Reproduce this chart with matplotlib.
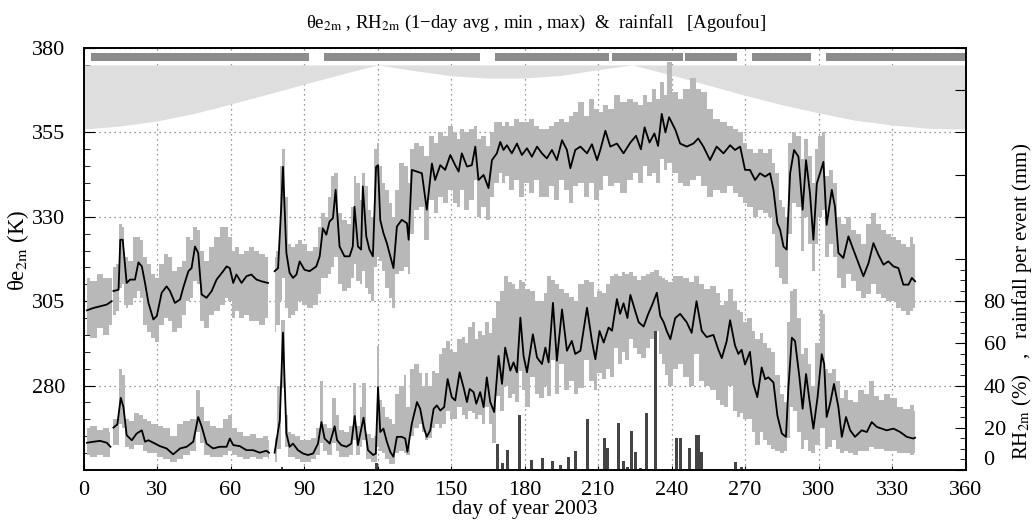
import numpy as np
import matplotlib
matplotlib.use("Agg")
import matplotlib.pyplot as plt
from matplotlib.ticker import MultipleLocator, FixedLocator, FuncFormatter

plt.rcParams['font.family'] = ['Liberation Serif', 'DejaVu Serif']
plt.rcParams['mathtext.fontset'] = 'stix'

nan = np.nan

# theta-e 2m : day, 1-day avg, min, max  (K)
theta_day = [1.4, 4.1, 6.8, 9.5, 11.5, 11.9, 12.2, 14.3, 15.0, 16.0, 17.0, 17.6, 19.0, 21.0, 22.4, 23.8,
             25.1, 26.5, 28.5, 29.9, 31.9, 33.9, 35.3, 37.3, 39.4, 40.7, 42.8, 44.1, 45.5, 46.8, 48.2,
             50.2, 52.3, 54.3, 57.0, 58.4, 59.7, 61.1, 62.4, 64.5, 66.5, 68.5, 70.6, 72.6, 75.3, 76.5,
             78.0, 79.4, 80.7, 81.4, 82.8, 84.1, 85.5, 86.9, 88.2, 90.2, 92.3, 95.0, 96.4, 97.7, 99.1,
             100.4, 101.8, 102.9, 104.5, 106.5, 108.6, 109.9, 110.6, 112.0, 113.3, 114.0, 115.4, 116.7,
             118.1, 119.4, 120.2, 121.1, 122.4, 123.8, 125.2, 126.5, 127.9, 129.9, 132.0, 132.7, 134.0,
             136.1, 138.1, 140.1, 142.2, 143.5, 145.6, 147.6, 149.7, 151.7, 153.1, 154.4, 156.5, 158.5,
             159.9, 161.2, 163.3, 165.3, 166.7, 168.7, 170.1, 171.4, 172.8, 174.8, 176.9, 178.9, 181.0,
             183.0, 185.1, 187.1, 189.1, 191.2, 193.2, 195.3, 197.3, 198.7, 200.7, 202.8, 205.5, 207.5,
             209.6, 211.0, 213.0, 215.0, 217.7, 220.4, 223.2, 225.5, 227.5, 229.0, 231.0, 233.0, 234.5,
             236.0, 237.5, 239.0, 241.6, 243.5, 246.2, 248.9, 250.9, 253.0, 255.7, 258.4, 261.2, 263.9,
             265.9, 268.0, 270.0, 272.0, 274.1, 276.1, 278.2, 280.2, 281.6, 283.2, 284.3, 285.7, 287.0,
             288.4, 290.0, 291.8, 293.5, 294.9, 296.5, 297.9, 299.3, 300.6, 302.0, 303.3, 305.4, 306.7,
             308.1, 310.1, 312.2, 314.2, 316.3, 318.3, 320.4, 322.4, 324.4, 326.5, 328.5, 330.6, 332.6,
             334.6, 336.7, 338.1, 339.4]
theta_avg = [302.3, 303.0, 303.5, 304.0, 305.0, nan, 308.0, 308.4, 323.2, 323.2, 315.3, 310.4, 311.4, 311.4,
             316.5, 315.3, 310.4, 304.5, 299.6, 300.6, 307.5, 309.4, 308.0, 304.5, 305.5, 309.0, 313.9,
             314.8, 321.2, 319.3, 307.0, 306.0, 308.0, 311.4, 313.9, 315.3, 314.8, 310.4, 312.9, 310.4,
             312.4, 312.9, 311.4, 310.9, 310.4, nan, 313.9, 314.8, 333.0, 344.8, 319.3, 313.4, 311.9,
             312.9, 316.8, 314.3, 313.9, 315.3, 318.3, 326.6, 324.7, 328.6, 329.6, 338.0, 321.2, 318.3,
             318.3, 321.2, 333.0, 321.2, 320.3, 339.0, 324.2, 320.3, 318.3, 344.8, 345.3, 329.1, 325.2,
             322.2, 318.3, 314.8, 327.1, 329.1, 328.1, 323.2, 343.9, 343.4, 342.9, 332.1, 345.8, 340.9,
             345.3, 343.9, 348.3, 345.3, 343.4, 348.8, 344.9, 345.3, 350.8, 340.9, 342.4, 338.5, 346.8,
             348.8, 352.2, 349.8, 351.2, 348.8, 351.7, 348.3, 350.3, 347.8, 350.8, 348.8, 347.3, 349.8,
             346.8, 352.7, 349.8, 344.4, 349.8, 350.8, 348.8, 351.5, 346.8, 350.0, 355.5, 350.8, 351.7,
             348.8, 352.0, 354.0, 350.0, 356.5, 352.0, 354.7, 351.0, 360.5, 355.0, 359.5, 355.7, 351.7,
             350.8, 351.7, 353.2, 350.8, 346.8, 350.8, 348.8, 351.2, 349.8, 350.8, 343.9, 343.9, 340.9,
             342.9, 341.9, 342.9, 338.0, 328.1, 326.2, 321.2, 320.3, 342.9, 349.8, 347.8, 332.1, 346.8,
             337.0, 323.2, 339.9, 342.9, 346.3, 327.6, 338.0, 333.0, 319.3, 317.8, 324.2, 320.3, 316.3,
             312.4, 316.3, 322.2, 318.8, 315.8, 316.8, 315.3, 314.8, 309.9, 309.9, 311.9, 310.9]
theta_min = [295, 294, 297, 295, 298, nan, 301, 302, 309, 310, 304, 303, 304, 306, 308, 306, 298, 296, 294,
             293, 298, 300, 299, 296, 297, 301, 305, 306, 311, 310, 299, 297, 301, 302, 304, 306, 305, 300,
             302, 300, 301, 299, 299, 298, 300, nan, 296, 298, 305, 312, 303, 300, 301, 302, 305, 304, 303,
             304, 307, 312, 312, 313, 315, 318, 310, 308, 309, 312, 316, 311, 310, 314, 309, 307, 305, 315,
             318, 317, 314, 309, 306, 303, 313, 314, 315, 313, 325, 332, 333, 323, 335, 331, 336, 334, 338,
             334, 333, 338, 332, 335, 341, 330, 333, 329, 336, 340, 343, 340, 342, 338, 341, 336, 340, 337,
             341, 336, 336, 339, 335, 341, 338, 334, 339, 340, 336, 340, 335, 338, 342, 339, 340, 337, 341,
             343, 340, 345, 342, 343, 340, 347, 344, 346, 343, 340, 339, 341, 342, 339, 336, 338, 337, 339,
             337, 336, 334, 333, 330, 332, 331, 330, 325, 315, 312, 310, 310, 325, 334, 333, 320, 330, 322,
             314, 322, 330, 332, 318, 322, 318, 312, 309, 313, 311, 308, 306, 307, 310, 307, 306, 305, 305,
             303, 302, 301, 302, 303]
theta_max = [312, 311, 313, 312, 312, nan, 315, 316, 328, 327, 318, 318, 317, 324, 324, 323, 318, 316, 313,
             312, 316, 319, 318, 314, 315, 317, 324, 323, 327, 326, 320, 317, 321, 324, 327, 327, 324, 320,
             321, 319, 320, 321, 320, 319, 318, nan, 318, 320, 345, 350, 336, 322, 321, 322, 323, 322, 320,
             321, 327, 331, 330, 336, 342, 343, 331, 329, 328, 333, 342, 340, 335, 343, 339, 332, 330, 350,
             352, 345, 340, 338, 334, 330, 338, 346, 345, 340, 350, 352, 351, 348, 354, 352, 355, 354, 357,
             355, 353, 356, 355, 356, 357, 353, 354, 351, 355, 358, 358, 357, 358, 357, 359, 358, 358, 359,
             357, 356, 356, 357, 358, 359, 358, 360, 361, 364, 360, 365, 362, 361, 363, 362, 366, 364, 365,
             364, 363, 366, 364, 368, 365, 370, 366, 376, 367, 365, 368, 371, 368, 367, 362, 359, 358, 357,
             356, 355, 352, 350, 349, 350, 349, 350, 346, 343, 335, 333, 330, 352, 355, 354, 347, 353, 348,
             340, 350, 354, 355, 342, 344, 340, 330, 328, 330, 326, 325, 322, 328, 331, 328, 326, 325, 324,
             323, 322, 321, 324, 322]

# RH 2m : day, 1-day avg, min, max  (%)
rh_day = [1.4, 4.1, 6.8, 9.5, 11.0, 11.9, 12.2, 13.8, 15.2, 16.3, 17.6, 19.7, 21.7, 23.8, 25.1, 26.5, 28.5,
          31.2, 33.9, 36.6, 39.4, 42.1, 44.8, 46.8, 48.2, 50.2, 52.9, 55.6, 58.4, 59.7, 61.1, 63.8, 66.5,
          69.2, 71.9, 74.6, 75.7, 77.0, 78.0, 80.1, 81.4, 82.8, 84.1, 85.5, 87.5, 89.6, 91.6, 93.7, 95.7,
          97.1, 98.4, 100.5, 102.5, 103.5, 105.2, 107.3, 109.3, 110.7, 112.0, 113.4, 114.3, 116.1, 118.2,
          119.3, 120.2, 121.1, 122.4, 123.8, 125.2, 126.5, 127.9, 129.9, 131.3, 132.2, 134.0, 136.1, 137.4,
          138.8, 140.1, 141.5, 142.9, 144.2, 145.6, 147.2, 148.6, 150.3, 151.7, 153.5, 155.1, 156.5, 157.6,
          159.2, 160.3, 161.9, 163.3, 164.6, 166.0, 167.6, 169.4, 170.8, 172.1, 174.2, 175.5, 176.9, 178.3,
          179.6, 181.0, 183.4, 185.1, 187.1, 188.5, 189.8, 191.6, 193.2, 195.3, 197.3, 199.3, 200.7, 202.8,
          205.5, 207.5, 208.9, 210.6, 212.3, 214.3, 215.7, 217.7, 219.0, 220.4, 222.0, 223.2, 225.0, 226.6,
          228.6, 230.5, 232.0, 234.0, 235.4, 236.8, 238.0, 239.5, 241.5, 243.5, 246.2, 248.2, 250.2, 252.3,
          254.3, 257.1, 259.1, 260.5, 262.5, 263.9, 265.9, 267.3, 268.6, 270.0, 272.0, 273.4, 275.0, 276.8,
          278.2, 279.5, 281.6, 283.2, 285.0, 286.7, 287.7, 289.1, 290.4, 292.2, 293.5, 294.9, 296.3, 297.9,
          299.6, 301.3, 302.3, 303.3, 304.7, 306.3, 308.1, 309.5, 311.2, 312.9, 314.9, 317.6, 319.7, 321.7,
          323.8, 325.8, 327.8, 330.6, 333.3, 336.0, 338.7, 339.4]
rh_avg = [12.9, 13.4, 13.8, 12.9, 11.0, nan, 20.1, 21.6, 34.2, 29.8, 16.5, 14.1, 17.3, 18.8, 13.4, 14.1, 12.9,
          11.3, 10.2, 7.4, 10.2, 11.0, 13.4, 25.1, 20.7, 12.5, 10.2, 11.0, 11.0, 14.9, 11.8, 11.3, 9.4, 9.4,
          8.2, 9.1, 8.2, nan, 8.2, 23.5, 65.1, 17.3, 11.0, 12.5, 9.4, 7.8, 7.1, 7.8, 12.5, 22.7, 14.9, 12.5,
          20.7, 14.1, 11.8, 11.0, 12.5, 25.6, 11.8, 19.6, 24.8, 9.4, 7.1, 7.8, 39.2, 18.0, 19.6, 13.4, 8.6,
          6.3, 15.7, 15.7, 14.9, 8.6, 22.0, 32.2, 29.0, 20.4, 15.7, 18.8, 29.0, 30.6, 28.2, 29.8, 43.1, 34.5,
          33.0, 46.3, 39.2, 32.2, 38.4, 36.9, 31.4, 36.9, 29.8, 43.9, 32.2, 27.5, 54.1, 40.8, 58.0, 47.1,
          51.0, 46.3, 72.2, 54.1, 46.3, 64.3, 53.3, 50.2, 58.0, 51.0, 79.2, 51.8, 76.1, 56.5, 61.2, 55.0,
          56.5, 76.9, 61.2, 52.5, 65.9, 60.4, 67.5, 66.0, 81.0, 74.0, 79.0, 72.0, 83.0, 76.0, 70.0, 68.0,
          74.0, 78.0, 84.0, 73.0, 70.0, 66.0, 62.0, 72.0, 74.0, 70.0, 65.0, 80.0, 66.0, 63.0, 64.0, 57.0,
          53.0, 61.0, 71.0, 59.0, 55.0, 57.0, 50.0, 56.0, 40.8, 34.5, 48.6, 43.0, 43.9, 41.5, 25.8, 17.3,
          15.7, 39.2, 62.7, 61.1, 43.9, 29.0, 45.5, 32.9, 19.6, 34.5, 54.9, 50.2, 25.1, 31.4, 40.8, 29.8,
          15.7, 25.1, 18.8, 15.7, 18.8, 18.0, 22.7, 20.4, 19.6, 18.8, 19.6, 18.0, 15.7, 14.9, 15.3]
rh_min = [7, 6, 7, 6, 6, nan, 12, 12, 22, 20, 11, 10, 12, 12, 9, 8, 8, 6, 5, 4, 5, 7, 9, 18, 13, 7, 6, 6, 7,
          9, 7, 6, 5, 6, 5, 6, 5, nan, 4, 10, 39, 11, 6, 6, 5, 4, 4, 5, 7, 13, 9, 7, 13, 9, 6, 6, 7, 14, 7,
          11, 14, 5, 4, 4, 11, 9, 8, 5, 3, 3, 8, 9, 8, 7, 16, 20, 22, 18, 14, 15, 20, 22, 20, 22, 28, 24, 24,
          30, 26, 24, 28, 27, 24, 26, 22, 30, 22, 13, 35, 28, 40, 34, 36, 32, 47, 38, 30, 44, 36, 34, 40, 35,
          52, 36, 50, 38, 42, 36, 39, 52, 42, 38, 46, 43, 48, 44, 58, 50, 56, 52, 62, 58, 55, 53, 58, 62, 66,
          55, 50, 45, 40, 48, 50, 44, 40, 55, 42, 40, 38, 33, 31, 30, 40, 28, 25, 27, 24, 24, 18, 12, 18, 14,
          12, 10, 9, 8, 9, 15, 30, 28, 18, 10, 14, 9, 8, 12, 20, 20, 10, 11, 14, 10, 8, 9, 8, 7, 9, 9, 11,
          10, 10, 9, 9, 8, 8, 7, 8]
rh_max = [20, 21, 19, 20, 18, nan, 24, 24, 48, 45, 24, 23, 27, 26, 24, 23, 22, 21, 20, 16, 22, 23, 24, 38,
          30, 23, 21, 20, 24, 26, 20, 18, 16, 17, 15, 16, 14, nan, 15, 40, 71, 26, 18, 17, 16, 14, 14, 15,
          20, 42, 22, 20, 34, 26, 19, 18, 21, 41, 21, 30, 41, 17, 15, 16, 59, 33, 30, 25, 24, 22, 36, 40,
          45, 30, 48, 50, 46, 40, 46, 40, 47, 46, 55, 58, 61, 57, 56, 62, 63, 60, 68, 70, 62, 66, 64, 70,
          65, 72, 80, 85, 92, 89, 88, 86, 90, 89, 86, 85, 80, 80, 84, 92, 90, 88, 86, 84, 82, 80, 88, 90,
          89, 82, 85, 84, 88, 92, 93, 92, 94, 93, 94, 92, 90, 92, 93, 94, 95, 92, 91, 90, 89, 92, 92, 91,
          89, 92, 88, 86, 87, 84, 78, 80, 86, 80, 76, 75, 70, 72, 66, 62, 65, 60, 58, 56, 45, 36, 32, 70,
          85, 86, 72, 55, 58, 50, 40, 60, 76, 74, 48, 46, 48, 42, 34, 38, 33, 32, 38, 36, 42, 35, 33, 36,
          34, 30, 29, 31, 28]

# rainfall per event (mm)
rain_day = [81.0, 119.7, 168.9, 171.0, 173.2, 177.9, 182.9, 187.2, 191.5, 194.7, 197.9, 200.7, 205.6,
            212.7, 214.0, 218.4, 220.4, 222.0, 223.6, 225.2, 227.2, 229.9, 233.4, 242.2, 243.8, 247.5,
            250.0, 251.0, 252.4, 266.0, 268.7]
rain_mm = [1.6, 3.4, 12.5, 3.4, 9.4, 25.9, 4.7, 5.5, 4.4, 2.4, 6.0, 9.0, 24.2, 15.2, 10.5, 22.5, 4.2,
           1.6, 18.4, 8.3, 0.8, 27.0, 68.0, 15.2, 15.2, 10.2, 16.5, 16.5, 8.6, 3.6, 1.6]

# data availability periods (day start, day end)
avail_start = [3.0, 98.0, 168.0, 215.6, 245.5, 273.0, 303.0]
avail_end = [92.0, 162.0, 214.6, 244.6, 266.7, 297.0, 360.0]

# upper shaded envelope (lower edge, K scale)
sun_day = [0, 15, 30, 45, 60, 75, 90, 105, 120, 135, 150, 165, 180, 195, 210, 224, 240, 255, 270, 285,
           300, 315, 330, 345, 360]
sun_k = [356.0, 356.9, 358.4, 360.6, 363.4, 366.3, 369.3, 372.2, 375.0, 373.3, 371.8, 371.1, 371.1, 371.9,
         373.6, 375.0, 372.0, 369.0, 366.0, 363.2, 360.8, 358.6, 357.2, 356.2, 356.0]

fig = plt.figure(figsize=(10.35, 5.26), dpi=100)
ax = fig.add_axes([0.0807, 0.1065, 0.8522, 0.8022])
ax.set_xlim(0, 360)
ax.set_ylim(255, 380)
ax.set_axisbelow(True)
ax.grid(True, which='major', linestyle=(0, (1, 3)), color='#777777', linewidth=0.9)

ax.fill_between(sun_day, sun_k, 375.0, color='#dedede', linewidth=0, zorder=1)
ax.broken_barh([(s, e - s) for s, e in zip(avail_start, avail_end)], (376.3, 2.2),
               facecolors='#8c8c8c', zorder=2)

band = '#b8b8b8'
ax.fill_between(theta_day, theta_min, theta_max, step='mid', color=band, linewidth=0, zorder=3)
ax.plot(theta_day, theta_avg, color='black', linewidth=1.3, zorder=4)

ax2 = ax.twinx()
ax2.set_ylim(0, 200)
ax2.bar(rain_day, rain_mm, width=1.2, color='#444444', zorder=2)
ax2.fill_between(rh_day, rh_min, rh_max, step='mid', color=band, linewidth=0, zorder=3)
ax2.plot(rh_day, rh_avg, color='black', linewidth=1.3, zorder=4)

ax.xaxis.set_major_locator(MultipleLocator(30))
ax.yaxis.set_major_locator(FixedLocator([280, 305, 330, 355, 380]))
ax.yaxis.set_minor_locator(MultipleLocator(5))
ax2.yaxis.set_major_locator(FixedLocator(list(range(0, 201, 20))))
ax2.yaxis.set_minor_locator(FixedLocator(list(range(0, 101, 5))))
ax2.yaxis.set_major_formatter(FuncFormatter(lambda v, p: '%d' % v if v <= 80 else ''))

ax.tick_params(axis='y', which='major', direction='in', length=8, labelsize=16, pad=13)
ax.tick_params(axis='y', which='minor', direction='in', length=4)
ax.tick_params(axis='x', direction='in', length=3, labelsize=16, pad=8)
ax2.tick_params(axis='y', which='major', direction='in', length=8, labelsize=16, pad=13)
ax2.tick_params(axis='y', which='minor', direction='in', length=4)
ax2.yaxis.get_major_ticks()[0].label2.set_verticalalignment('bottom')
for a in (ax, ax2):
    for sp in a.spines.values():
        sp.set_linewidth(1.2)

ax.set_xlabel('day of year 2003', fontsize=15.5, labelpad=-1)
ax.set_ylabel('θe$_{\\rm 2m}$ (K)', fontsize=16.5)
ax.yaxis.set_label_coords(-0.06, 0.52)
ax2.set_ylabel('RH$_{\\rm 2m}$ (%)   ,   rainfall per event (mm)', fontsize=15)
ax2.yaxis.set_label_coords(1.05, 0.40)

fig.text(0.518, 0.955, 'θe$_{\\rm 2m}$ , RH$_{\\rm 2m}$ (1\u2212day avg , min , max)  &  rainfall   [Agoufou]',
         ha='center', va='center', fontsize=13.5)

fig.savefig('out.png', dpi=100)
